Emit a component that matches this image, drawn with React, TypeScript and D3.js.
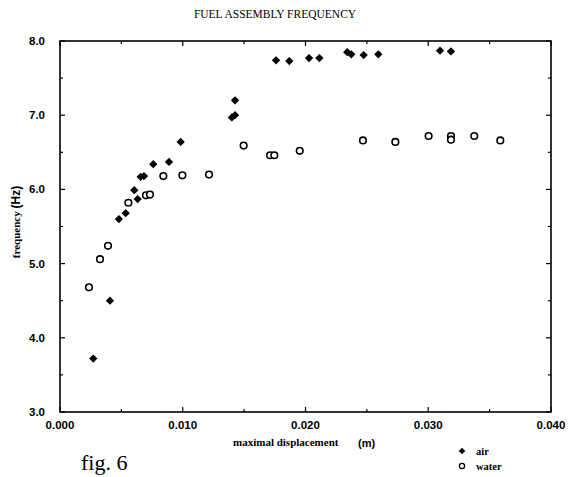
import React from "react";
import * as d3 from "d3";

const airX = [0.00271, 0.00407, 0.0048, 0.00535, 0.00605, 0.00633, 0.00657, 0.00684, 0.0076, 0.00888, 0.00983, 0.014, 0.01426, 0.01426, 0.0176, 0.01868, 0.02029, 0.02113, 0.0234, 0.02373, 0.02474, 0.02593, 0.03096, 0.03185];
const airY = [3.72, 4.5, 5.6, 5.68, 5.99, 5.87, 6.17, 6.18, 6.34, 6.37, 6.64, 6.97, 7.0, 7.2, 7.74, 7.73, 7.77, 7.77, 7.85, 7.82, 7.81, 7.82, 7.87, 7.86];
const waterX = [0.00236, 0.00326, 0.00391, 0.00557, 0.007, 0.00733, 0.00842, 0.00997, 0.01214, 0.01496, 0.01711, 0.01746, 0.01953, 0.02468, 0.02732, 0.03003, 0.03185, 0.03185, 0.03375, 0.03587];
const waterY = [4.68, 5.06, 5.24, 5.82, 5.92, 5.93, 6.18, 6.19, 6.2, 6.59, 6.46, 6.46, 6.52, 6.66, 6.64, 6.72, 6.72, 6.67, 6.72, 6.66];
const xTicks = [0, 0.01, 0.02, 0.03, 0.04];
const yTicks = [3, 4, 5, 6, 7, 8];

const L = 60, R = 551, T = 41, B = 412;

export default function App() {
  const x = d3.scaleLinear().domain([0, 0.04]).range([L, R]);
  const y = d3.scaleLinear().domain([3, 8]).range([B, T]);
  const diamond = d3.symbol().type(d3.symbolDiamond2).size(44)();
  const xMinor = d3.range(0, 0.0401, 0.005);
  const yMinor = d3.range(3, 8.01, 0.5);
  const sans = "'Liberation Sans', Arial, sans-serif";
  const serif = "'Liberation Serif', 'Times New Roman', serif";
  return (
    <svg width={582} height={477} style={{ position: "absolute", left: 0, top: 0, background: "#fff" }}>
      <rect x={0} y={0} width={582} height={477} fill="#fff" />
      <text x={275} y={18} textAnchor="middle" fontFamily={serif} fontSize={11.5}>FUEL ASSEMBLY FREQUENCY</text>
      {xMinor.map((v, i) => {
        const major = Math.abs(v / 0.01 - Math.round(v / 0.01)) < 1e-6;
        const len = major ? 5 : 3;
        return (
          <g key={"xt" + i}>
            <line x1={x(v)} x2={x(v)} y1={B} y2={B - len} stroke="#000" strokeWidth={1.2} />
            <line x1={x(v)} x2={x(v)} y1={T} y2={T + len} stroke="#000" strokeWidth={1.2} />
          </g>
        );
      })}
      {yMinor.map((v, i) => {
        const major = Math.abs(v - Math.round(v)) < 1e-6;
        const len = major ? 5 : 3;
        return (
          <g key={"yt" + i}>
            <line x1={L} x2={L + len} y1={y(v)} y2={y(v)} stroke="#000" strokeWidth={1.2} />
            <line x1={R} x2={R - len} y1={y(v)} y2={y(v)} stroke="#000" strokeWidth={1.2} />
          </g>
        );
      })}
      <rect x={L} y={T} width={R - L} height={B - T} fill="none" stroke="#000" strokeWidth={1.6} />
      {xTicks.map((v) => (
        <text key={"xl" + v} x={x(v)} y={429} textAnchor="middle" fontFamily={sans} fontWeight="bold" fontSize={11.5}>{v.toFixed(3)}</text>
      ))}
      {yTicks.map((v) => (
        <text key={"yl" + v} x={45} y={y(v) + 4} textAnchor="end" fontFamily={sans} fontWeight="bold" fontSize={11.5}>{v.toFixed(1)}</text>
      ))}
      <text x={233} y={446} fontFamily={serif} fontWeight="bold" fontSize={11}>maximal displacement</text>
      <text x={358} y={447} fontFamily={sans} fontWeight="bold" fontSize={11}>(m)</text>
      <g transform="translate(20,222) rotate(-90)">
        <text x={0} y={0} textAnchor="middle" fontFamily={serif} fontWeight="bold" fontSize={11}>
          frequency <tspan fontFamily={sans} fontSize={12}>(Hz)</tspan>
        </text>
      </g>
      {waterX.map((v, i) => (
        <circle key={"w" + i} cx={x(v)} cy={y(waterY[i])} r={3.3} fill="#fff" stroke="#000" strokeWidth={1.6} />
      ))}
      {airX.map((v, i) => (
        <path key={"a" + i} d={diamond} transform={`translate(${x(v)},${y(airY[i])})`} fill="#000" />
      ))}
      <path d={d3.symbol().type(d3.symbolDiamond2).size(28)()} transform="translate(462,451)" fill="#000" />
      <text x={476} y={455} fontFamily={serif} fontWeight="bold" fontSize={10.5}>air</text>
      <circle cx={462} cy={466} r={2.6} fill="#fff" stroke="#000" strokeWidth={1.3} />
      <text x={476} y={470} fontFamily={serif} fontWeight="bold" fontSize={10.5}>water</text>
      <text x={81} y={470} fontFamily={serif} fontSize={22}>fig. 6</text>
    </svg>
  );
}
